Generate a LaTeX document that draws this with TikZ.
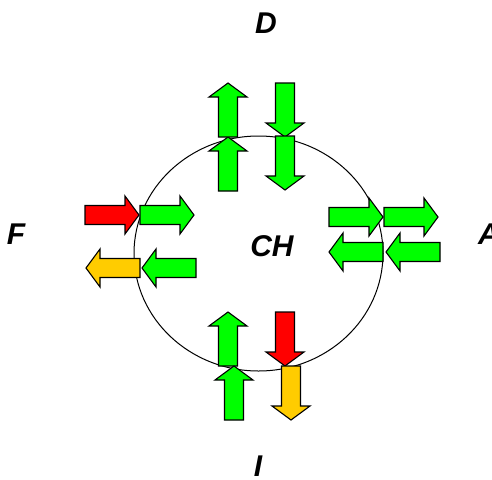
\documentclass[tikz,border=0pt]{standalone}
\usepackage{fontspec}
\usepackage{tikz}
\usetikzlibrary{positioning}
\newfontfamily\flowfont{Liberation Sans}
\definecolor{flowgreen}{RGB}{0, 255, 0}
\definecolor{flowred}{RGB}{255, 0, 0}
\definecolor{flowamber}{RGB}{255, 204, 0}

\tikzset{
    pics/flowarrow/.style={code={
        \draw[fill=#1, line width=1.1pt, line join=miter]
            (0,-9.5) -- (40,-9.5) -- (40,-19) -- (54,0) -- (40,19) -- (40,9.5) -- (0,9.5) -- cycle;
    }},
    zonelabel/.style={font=\flowfont\fontsize{30}{36}\selectfont\bfseries\itshape, inner sep=0pt}
}

\begin{document}
\begin{tikzpicture}[x=1pt, y=-1pt]
    \useasboundingbox (0,0) rectangle (492,479);

    \draw[line width=1pt] (258.5,253.5) ellipse (124.5 and 117.5);

    % top
    \pic[rotate=90]  at (228,191) {flowarrow=flowgreen};
    \pic[rotate=90]  at (228,137) {flowarrow=flowgreen};
    \pic[rotate=-90] at (285,83)  {flowarrow=flowgreen};
    \pic[rotate=-90] at (285,136) {flowarrow=flowgreen};

    % left
    \pic at (85,215)  {flowarrow=flowred};
    \pic at (140,215) {flowarrow=flowgreen};
    \pic[rotate=180] at (196,268) {flowarrow=flowgreen};
    \pic[rotate=180] at (140,268) {flowarrow=flowamber};

    % right
    \pic at (329,217) {flowarrow=flowgreen};
    \pic at (384,217) {flowarrow=flowgreen};
    \pic[rotate=180] at (440,252) {flowarrow=flowgreen};
    \pic[rotate=180] at (383,252) {flowarrow=flowgreen};

    % bottom
    \pic[rotate=90]  at (228,366) {flowarrow=flowgreen};
    \pic[rotate=90]  at (234,420) {flowarrow=flowgreen};
    \pic[rotate=-90] at (285,312) {flowarrow=flowred};
    \pic[rotate=-90] at (291,366) {flowarrow=flowamber};

    \node[zonelabel] (lblD)  at (266,23.5) {D};
    \node[zonelabel] (lblF)  at (16,234)   {F};
    \node[zonelabel] (lblA)  at (489,234)  {A};
    \node[zonelabel] (lblI)  at (258,466)  {I};
    \node[zonelabel] (lblCH) at (272,246)  {CH};
\end{tikzpicture}
\end{document}
